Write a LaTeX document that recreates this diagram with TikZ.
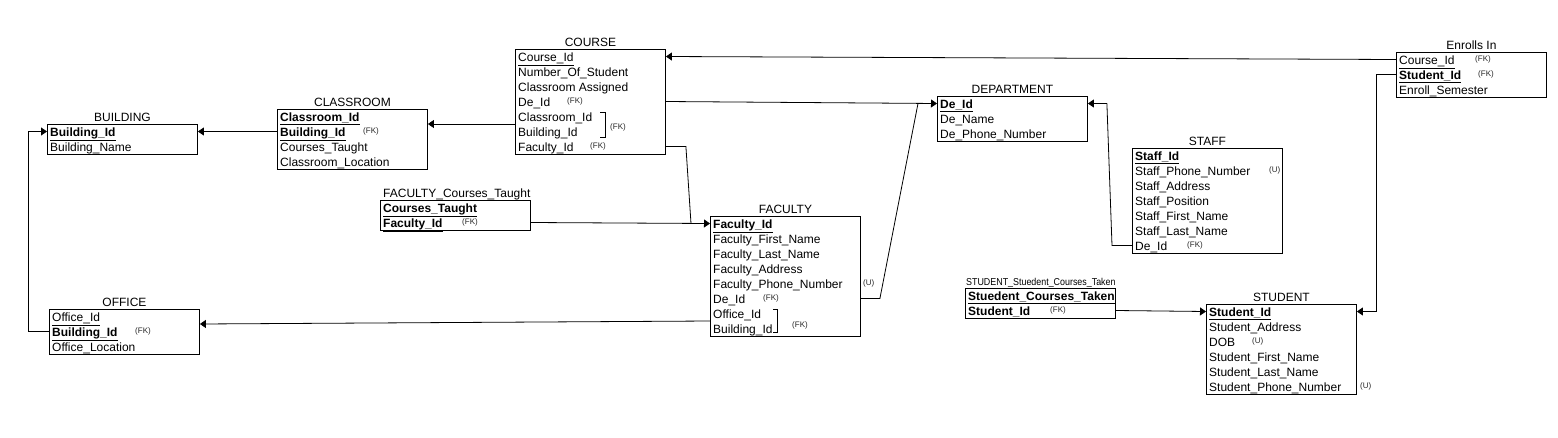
\documentclass[tikz,border=0pt]{standalone}
\usepackage{fontspec}
\setmainfont{Liberation Sans}
\usetikzlibrary{arrows.meta,calc}
\newcommand\pk[1]{\underline{\textbf{#1}}}
\newcommand\pkn[1]{\underline{#1}}
\newcommand\ertable[5]{% name, x, y, nrows, rows
  \node[erbox, minimum height={15pt*#4}, anchor=north west] (#1) at (#2,#3) {};
  \foreach \t [count=\i] in {#5} {
    \node[rowtxt] (#1-\i) at ([shift={(3,7.5+15*\i-15)}]#1.north west) {\t};
  }
}
\tikzset{
  erbox/.style={draw=black, line width=0.9pt, minimum width=150pt, inner sep=0pt, fill=white},
  rowtxt/.style={anchor=west, inner sep=0pt, text height=9pt, text depth=0pt, font=\fontsize{12}{14}\selectfont},
  ttl/.style={anchor=base, inner sep=0pt, font=\fontsize{12}{14}\selectfont},
  ann/.style={anchor=west, inner sep=0pt, font=\fontsize{8}{9}\selectfont, text=black!85},
  fk/.style={draw=black, line width=0.8pt, -{Triangle[length=6pt,width=8pt]}},
  ln/.style={draw=black, line width=0.8pt},
  brk/.style={draw=black, line width=0.6pt}
}
\begin{document}
\begin{tikzpicture}[x=1pt,y=-1pt]
\useasboundingbox[fill=white] (0,0) rectangle (1558,437);

% tables
\ertable{building}{47}{124}{2}{\pk{Building\_Id}, Building\_Name}
\ertable{classroom}{277}{109}{4}{\pk{Classroom\_Id}, \pk{Building\_Id}, Courses\_Taught, Classroom\_Location}
\ertable{course}{515}{49}{7}{\pkn{Course\_Id}, Number\_Of\_Student, Classroom Assigned, De\_Id, Classroom\_Id, Building\_Id, Faculty\_Id}
\ertable{fct}{380}{200}{2}{\pk{Courses\_Taught}, \pk{Faculty\_Id}}
\ertable{faculty}{710}{216}{8}{\pk{Faculty\_Id}, Faculty\_First\_Name, Faculty\_Last\_Name, Faculty\_Address, Faculty\_Phone\_Number, De\_Id, Office\_Id, Building\_Id}
\ertable{office}{49}{309}{3}{\pkn{Office\_Id}, \pk{Building\_Id}, Office\_Location}
\ertable{department}{937}{96}{3}{\pk{De\_Id}, De\_Name, De\_Phone\_Number}
\ertable{staff}{1132}{148}{7}{\pk{Staff\_Id}, Staff\_Phone\_Number, Staff\_Address, Staff\_Position, Staff\_First\_Name, Staff\_Last\_Name, De\_Id}
\ertable{enrolls}{1396}{52}{3}{\pkn{Course\_Id}, \pk{Student\_Id}, Enroll\_Semester}
\ertable{sct}{965}{288}{2}{\pk{Stuedent\_Courses\_Taken}, \pk{Student\_Id}}
\ertable{student}{1206}{304}{6}{\pk{Student\_Id}, Student\_Address, DOB, Student\_First\_Name, Student\_Last\_Name, Student\_Phone\_Number}

% titles
\node[ttl] (t-building) at ([yshift=3pt]building.north) {BUILDING};
\node[ttl] (t-classroom) at ([yshift=3pt]classroom.north) {CLASSROOM};
\node[ttl] (t-course) at ([yshift=3pt]course.north) {COURSE};
\node[ttl, anchor=base west] (t-fct) at ([shift={(3,-3)}]fct.north west) {FACULTY\_Courses\_Taught};
\node[ttl] (t-faculty) at ([yshift=3pt]faculty.north) {FACULTY};
\node[ttl] (t-office) at ([yshift=3pt]office.north) {OFFICE};
\node[ttl] (t-department) at ([yshift=3pt]department.north) {DEPARTMENT};
\node[ttl] (t-staff) at ([yshift=3pt]staff.north) {STAFF};
\node[ttl] (t-enrolls) at ([yshift=3pt]enrolls.north) {Enrolls In};
\node[ttl, anchor=base west, font=\fontsize{10}{12}\selectfont, xscale=0.89] (t-sct) at ([shift={(1,-3)}]sct.north west) {STUDENT\_Stuedent\_Courses\_Taken};
\node[ttl] (t-student) at ([yshift=3pt]student.north) {STUDENT};

% annotations
\node[ann] (a1) at ([xshift=83]classroom-2.west) {(FK)};
\node[ann] (a2) at ([xshift=49]course-4.west) {(FK)};
\node[ann] (a3) at ([xshift=72]course-7.west) {(FK)};
\node[ann] (a4) at ([xshift=79]fct-2.west) {(FK)};
\node[ann] (a5) at ([xshift=150]faculty-5.west) {(U)};
\node[ann] (a6) at ([xshift=50]faculty-6.west) {(FK)};
\node[ann] (a7) at ([xshift=83]office-2.west) {(FK)};
\node[ann] (a8) at ([xshift=134]staff-2.west) {(U)};
\node[ann] (a9) at ([xshift=52]staff-7.west) {(FK)};
\node[ann] (a10) at ([xshift=76]enrolls-1.west) {(FK)};
\node[ann] (a11) at ([xshift=79]enrolls-2.west) {(FK)};
\node[ann] (a12) at ([xshift=82]sct-2.west) {(FK)};
\node[ann] (a13) at ([xshift=43]student-3.west) {(U)};
\node[ann] (a14) at ([xshift=151]student-6.west) {(U)};
\node[ann] (a15) at ([shift={(95,78)}]course.north west) {(FK)};
\node[ann] (a16) at ([shift={(82,109)}]faculty.north west) {(FK)};

% brackets
\draw[brk] ([shift={(85,63)}]course.north west) -- ++(5,0) -- ++(0,25) -- ++(-5,0);
\draw[brk] ([shift={(63,93)}]faculty.north west) -- ++(4,0) -- ++(0,23) -- ++(-4,0);

% junction coordinates
\coordinate (dj) at ($(course.east |- course-4)!0.93!(department.west |- department-1)$);
\coordinate (fj) at ([xshift=-19]faculty.west |- faculty-1);
\coordinate (sj) at ([xshift=19]department.east |- department-1);
\coordinate (crsA) at ($(course-5.west)!0.5!(course-6.west)$);
\coordinate (clsA) at ($(classroom-1.west)!0.5!(classroom-2.west)$);
\coordinate (facA) at ($(faculty-7.west)!0.5!(faculty-8.west)$);
\coordinate (offA) at ($(office-1.west)!0.5!(office-2.west)$);

% connectors
\draw[fk] (office.west |- office-2) -- ++(-21,0) |- (building.west |- building-1);
\draw[fk] (classroom.west |- classroom-2) -- (building.east |- classroom-2);
\draw[fk] (course.west |- crsA) -- (classroom.east |- clsA);
\draw[fk] (enrolls.west |- enrolls-1) -- (course.east |- course-1);
\draw[fk] (course.east |- course-4) -- (department.west |- department-1);
\draw[ln] (faculty.east |- faculty-6) -- ++(19,0) -- (dj);
\draw[ln] (course.east |- course-7) -- ++(20,0) -- (fj);
\draw[fk] (fct.east |- fct-2) -- (faculty.west |- faculty-1);
\draw[fk] (faculty.west |- facA) -- (office.east |- offA);
\draw[ln] (staff.west |- staff-7) -- ++(-20,0) -- (sj);
\draw[fk] (sj) -- (department.east |- department-1);
\draw[fk] (enrolls.west |- enrolls-2) -- ++(-20,0) |- (student.east |- student-1);
\draw[fk] (sct.east |- sct-2) -- (student.west |- student-1);
\end{tikzpicture}
\end{document}
